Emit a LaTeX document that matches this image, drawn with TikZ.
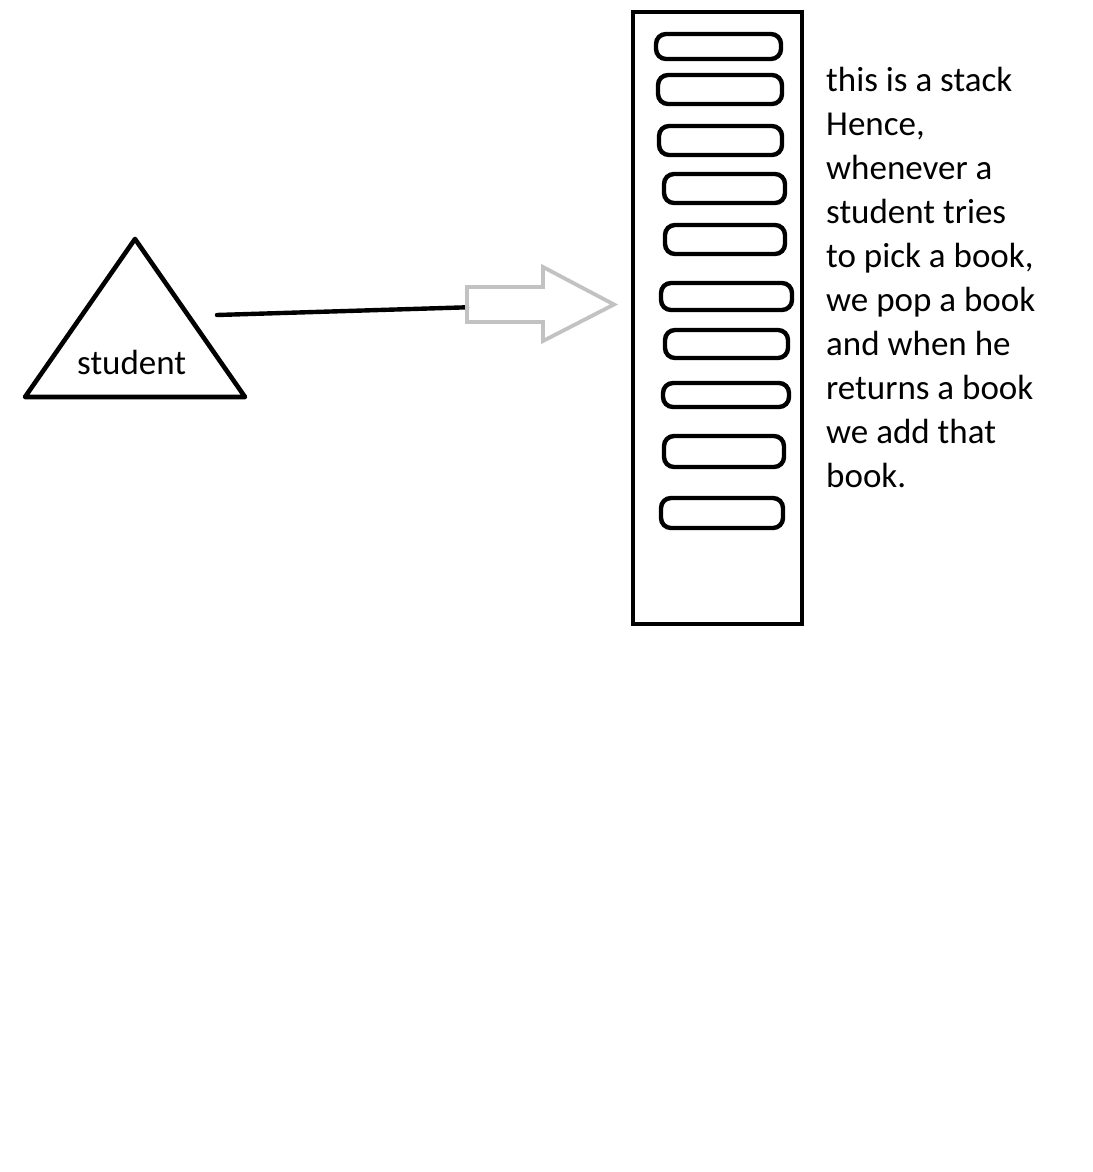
\documentclass[tikz,border=0pt]{standalone}
\usepackage{fontspec}
\setmainfont{Carlito}
\usetikzlibrary{arrows.meta}

\begin{document}
\begin{tikzpicture}[
  x=1pt, y=-1pt,
  outline/.style={draw=black, line width=4.6pt, line join=round},
  bookbox/.style={draw=black, line width=4.4pt, rounded corners=10pt},
  stackbox/.style={draw=black, line width=4.6pt, inner sep=0pt,
                   minimum width=169pt, minimum height=612pt},
  hollow/.style={draw=black!24, line width=3.8pt, line join=miter},
  link/.style={draw=black, line width=4.4pt, line cap=round},
  txt/.style={inner sep=0pt, font=\fontsize{35}{44}\selectfont},
]
\useasboundingbox (0,0) rectangle (1092,1172);
% student
\coordinate (apex) at (135,239);
\coordinate (bl)   at (25,397);
\coordinate (br)   at (245,397);
\draw[outline] (apex) -- (br) -- (bl) -- cycle;
\node[txt, anchor=base] (student) at (131.7,374) {student};
% link to the stack
\coordinate (from) at (217,315);
\coordinate (tail) at (467,304.5);
\draw[link] (from) -- ([yshift=-2.8pt]tail);
\draw[hollow] (tail) ++(0,-17.5) -- ++(76,0) -- ++(0,-20) -- ++(71,37.5)
    -- ++(-71,36.5) -- ++(0,-19) -- ++(-76,0) -- cycle;
% the stack and its books
\node[stackbox] (stack) at (717.5,318) {};
\foreach \xa/\ya/\xb/\yb in {656/34/781/59, 658/75/782/104, 659/126/782/155,
    664/174/785/203, 665/225/785/254, 661/283/792/310, 665/330/788/358,
    663/383/789/407, 664/436/784/467, 661/498/783/528}
  \draw[bookbox] (\xa,\ya) rectangle (\xb,\yb);
\node[txt, anchor=base west, align=left] (note) at (826,487)
  {this is a stack\\Hence,\\whenever a\\student tries\\to pick a book,\\
   we pop a book\\and when he\\returns a book\\we add that\\book.};
\end{tikzpicture}
\end{document}
